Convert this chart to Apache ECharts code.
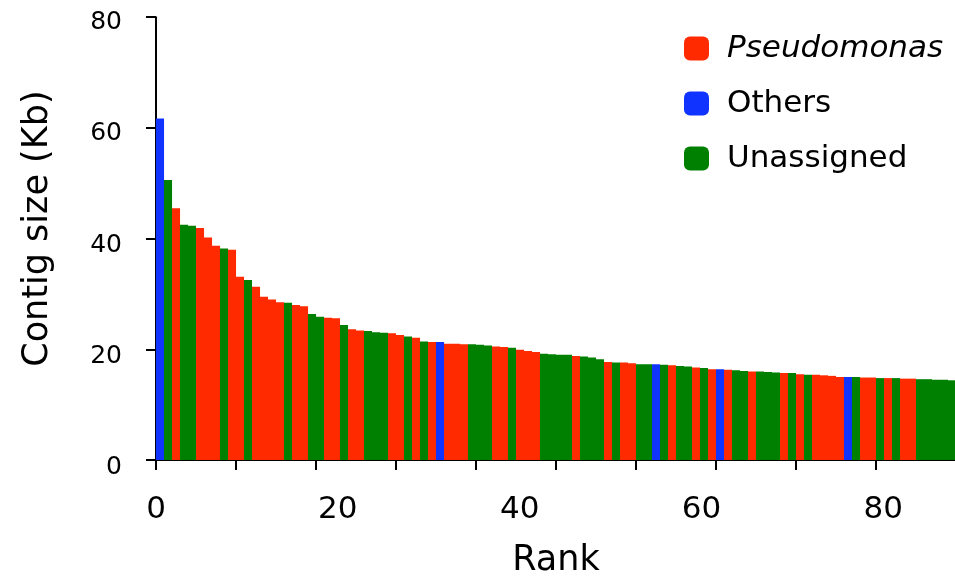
<!DOCTYPE html>
<html>
<head>
<meta charset="utf-8">
<script src="https://cdn.jsdelivr.net/npm/echarts@6/dist/echarts.min.js"></script>
<style>
html,body{margin:0;padding:0;background:#fff;}
#chart{width:955px;height:577px;}
</style>
</head>
<body>
<div id="chart"></div>
<script>
// Contig sizes (Kb) by rank 1..100
const sizes = [
  61.7, 50.6, 45.5, 42.5, 42.3, 41.9, 40.2, 38.7, 38.2, 38.0,
  33.1, 32.5, 31.3, 29.5, 29.0, 28.5, 28.4, 28.0, 27.8, 26.4,
  25.9, 25.7, 25.6, 24.4, 23.6, 23.4, 23.3, 23.1, 23.0, 22.9,
  22.6, 22.3, 22.1, 21.4, 21.3, 21.3, 21.0, 21.0, 20.9, 20.9,
  20.8, 20.7, 20.5, 20.4, 20.3, 19.9, 19.7, 19.5, 19.2, 19.1,
  19.0, 19.0, 18.8, 18.7, 18.5, 18.2, 17.7, 17.6, 17.6, 17.5,
  17.3, 17.3, 17.3, 17.2, 17.1, 17.0, 16.9, 16.7, 16.6, 16.4,
  16.4, 16.3, 16.2, 16.1, 16.0, 16.0, 15.9, 15.8, 15.7, 15.7,
  15.5, 15.4, 15.4, 15.3, 15.2, 15.0, 15.0, 15.0, 14.9, 14.9,
  14.8, 14.8, 14.8, 14.7, 14.7, 14.6, 14.6, 14.5, 14.5, 14.4
];
// Group of each bar: P = Pseudomonas, O = Others, U = Unassigned
const groups = [
  'O','U','P','U','U','P','P','P','U','P',
  'P','U','P','P','P','P','U','P','P','U',
  'U','P','P','U','P','P','U','U','U','P',
  'P','U','P','U','P','O','P','P','P','U',
  'U','U','P','P','U','P','P','P','U','U',
  'U','U','P','U','U','U','P','U','P','P',
  'U','U','O','U','P','U','U','P','U','P',
  'O','P','U','U','P','U','U','U','P','U',
  'P','U','P','P','P','P','O','U','P','P',
  'U','P','U','P','P','U','U','U','U','U'
];
const categories = ['Pseudomonas', 'Others', 'Unassigned'];
const categoryCodes = ['P', 'O', 'U'];
const categoryColors = ['#ff2a00', '#1133ff', '#008000'];
const yTickLabels = [0, 20, 40, 60, 80];
const xTickLabels = [0, 20, 40, 60, 80];

const FONT = 'DejaVu Sans';
const chart = echarts.init(document.getElementById('chart'), null, {renderer: 'canvas'});

const series = categories.map((name, ci) => ({
  name: name,
  type: 'bar',
  xAxisIndex: 0,
  yAxisIndex: 0,
  barWidth: 8.1,
  barGap: '-100%',
  itemStyle: {color: categoryColors[ci]},
  emphasis: {disabled: true},
  data: sizes.map((v, i) => groups[i] === categoryCodes[ci] ? [i + 0.5, v] : null).filter(d => d)
}));

chart.setOption({
  animation: false,
  grid: [
    {left: 156, top: 17.2, width: 800, height: 442.8, containLabel: false, outerBoundsMode: 'none'},
    // label grid: tick labels in the reference sit a few pixels below their ticks
    {left: 156, top: 22.5, width: 800, height: 445, containLabel: false, outerBoundsMode: 'none'}
  ],
  legend: {
    orient: 'vertical',
    left: 679,
    top: 28,
    itemWidth: 25,
    itemHeight: 24,
    itemGap: 24,
    icon: 'roundRect',
    data: categories,
    formatter: n => n === 'Pseudomonas' ? '{i|' + n + '}' : '{n|' + n + '}',
    textStyle: {
      fontFamily: FONT, fontSize: 31, color: '#000',
      rich: {
        i: {fontFamily: FONT, fontSize: 31, fontStyle: 'italic', color: '#000', padding: [0, 0, 0, 13]},
        n: {fontFamily: FONT, fontSize: 31, color: '#000', padding: [0, 0, 0, 13]}
      }
    }
  },
  xAxis: [{
    gridIndex: 0,
    type: 'value',
    min: 0, max: 100, interval: 10,
    axisLine: {show: true, lineStyle: {color: '#000', width: 2}},
    axisTick: {show: true, length: 10, lineStyle: {color: '#000', width: 2}},
    axisLabel: {show: false},
    splitLine: {show: false},
    name: 'Rank',
    nameLocation: 'middle',
    nameGap: 83,
    nameTextStyle: {fontFamily: FONT, fontSize: 35, color: '#000'}
  }, {
    gridIndex: 0,
    type: 'value',
    position: 'bottom',
    min: 0, max: 88, interval: 20,
    axisLine: {show: false},
    axisTick: {show: false},
    splitLine: {show: false},
    axisLabel: {
      fontFamily: FONT, fontSize: 31, color: '#000', margin: 34.5,
      formatter: v => xTickLabels.indexOf(v) >= 0 ? String(v) : ''
    }
  }, {
    gridIndex: 1,
    type: 'value',
    min: 0, max: 100,
    show: false
  }],
  yAxis: [{
    gridIndex: 0,
    type: 'value',
    min: 0, max: 80, interval: 20,
    axisLine: {show: true, lineStyle: {color: '#000', width: 2}},
    axisTick: {show: true, length: 10, lineStyle: {color: '#000', width: 2}},
    axisLabel: {show: false},
    splitLine: {show: false},
    name: 'Contig size (Kb)',
    nameLocation: 'middle',
    nameGap: 101,
    nameTextStyle: {fontFamily: FONT, fontSize: 35, color: '#000', padding: [0, 0, 0, 20]}
  }, {
    gridIndex: 1,
    type: 'value',
    position: 'left',
    min: 0, max: 80, interval: 20,
    axisLine: {show: false},
    axisTick: {show: false},
    splitLine: {show: false},
    axisLabel: {
      fontFamily: FONT, fontSize: 25, color: '#000', margin: 34,
      formatter: v => yTickLabels.indexOf(v) >= 0 ? String(v) : ''
    }
  }],
  series: series
});
</script>
</body>
</html>
